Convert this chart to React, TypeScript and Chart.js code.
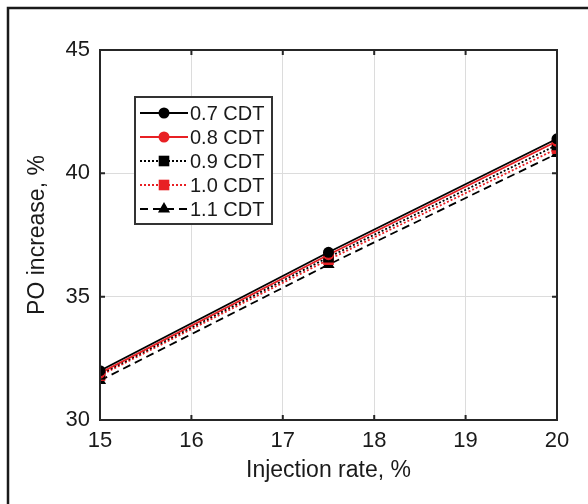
import React, { useEffect, useRef } from 'react';
import { Chart, registerables } from 'chart.js';

Chart.register(...registerables);

const injectionRate = [15, 17.5, 20];
const cdt07 = [32.0, 36.8, 41.4];
const cdt08 = [31.9, 36.7, 41.3];
const cdt09 = [31.85, 36.6, 41.15];
const cdt10 = [31.8, 36.5, 41.0];
const cdt11 = [31.6, 36.3, 40.8];
const seriesLabels = ['0.7 CDT', '0.8 CDT', '0.9 CDT', '1.0 CDT', '1.1 CDT'];
const xTitle = 'Injection rate, %';
const yTitle = 'PO increase, %';

const RED = 'rgb(232,32,36)';
const BLACK = '#000000';
const FONT = "'Liberation Sans', Arial, sans-serif";

function drawMarker(ctx: CanvasRenderingContext2D, style: string, x: number, y: number, r: number, color: string) {
  ctx.save();
  ctx.fillStyle = color;
  ctx.strokeStyle = color;
  ctx.setLineDash([]);
  ctx.beginPath();
  if (style === 'circle') {
    ctx.arc(x, y, r, 0, Math.PI * 2);
  } else if (style === 'rect') {
    const s = Math.SQRT1_2 * r;
    ctx.rect(x - s, y - s, 2 * s, 2 * s);
  } else if (style === 'triangle') {
    ctx.moveTo(x, y - r);
    ctx.lineTo(x + r * Math.sin(Math.PI / 3), y + r * 0.5);
    ctx.lineTo(x - r * Math.sin(Math.PI / 3), y + r * 0.5);
    ctx.closePath();
  }
  ctx.fill();
  ctx.restore();
}

const framePlugin = {
  id: 'framePlugin',
  beforeDraw(chart: any) {
    const ctx = chart.ctx as CanvasRenderingContext2D;
    ctx.save();
    ctx.fillStyle = '#ffffff';
    ctx.fillRect(0, 0, chart.width, chart.height);
    ctx.strokeStyle = '#1a1a1a';
    ctx.lineWidth = 2.5;
    ctx.beginPath();
    ctx.moveTo(8, chart.height);
    ctx.lineTo(8, 8);
    ctx.lineTo(chart.width, 8);
    ctx.stroke();
    ctx.restore();
  },
  afterDatasetsDraw(chart: any) {
    const ctx = chart.ctx as CanvasRenderingContext2D;
    const { left, right, top, bottom } = chart.chartArea;
    const xs = chart.scales.x;
    const ys = chart.scales.y;
    ctx.save();
    ctx.strokeStyle = '#262626';
    ctx.lineWidth = 2;
    ctx.setLineDash([]);
    ctx.strokeRect(left, top, right - left, bottom - top);
    const tl = 5;
    ctx.beginPath();
    xs.ticks.forEach((t: any) => {
      const px = xs.getPixelForValue(t.value);
      ctx.moveTo(px, bottom);
      ctx.lineTo(px, bottom - tl);
      ctx.moveTo(px, top);
      ctx.lineTo(px, top + tl);
    });
    ys.ticks.forEach((t: any) => {
      const py = ys.getPixelForValue(t.value);
      ctx.moveTo(left, py);
      ctx.lineTo(left + tl, py);
      ctx.moveTo(right, py);
      ctx.lineTo(right - tl, py);
    });
    ctx.stroke();

    const lx = 135, ly = 97, lw = 137, lh = 127;
    ctx.fillStyle = '#ffffff';
    ctx.fillRect(lx, ly, lw, lh);
    ctx.strokeStyle = '#333333';
    ctx.lineWidth = 2;
    ctx.strokeRect(lx, ly, lw, lh);
    chart.data.datasets.forEach((ds: any, i: number) => {
      const cy = 113 + i * 24;
      ctx.save();
      ctx.strokeStyle = ds.borderColor;
      ctx.lineWidth = ds.borderWidth;
      ctx.setLineDash(ds.borderDash || []);
      ctx.beginPath();
      ctx.moveTo(140, cy);
      ctx.lineTo(188, cy);
      ctx.stroke();
      ctx.restore();
      drawMarker(ctx, ds.pointStyle, 164, cy, ds.pointRadius, ds.pointBackgroundColor);
      ctx.fillStyle = '#1a1a1a';
      ctx.font = `20px ${FONT}`;
      ctx.textBaseline = 'middle';
      ctx.textAlign = 'left';
      ctx.fillText(ds.label, 190, cy + 1);
    });
    ctx.restore();
  },
};

function makeDataset(label: string, values: number[], color: string, dash: number[], pointStyle: string, radius: number) {
  return {
    label,
    data: injectionRate.map((x, i) => ({ x, y: values[i] })),
    borderColor: color,
    backgroundColor: color,
    pointBackgroundColor: color,
    pointBorderColor: color,
    pointBorderWidth: 0,
    borderWidth: 1.8,
    borderDash: dash,
    pointStyle,
    pointRadius: radius,
    pointHoverRadius: radius,
    tension: 0,
    fill: false,
  };
}

export default function App() {
  const canvasRef = useRef<HTMLCanvasElement | null>(null);

  useEffect(() => {
    if (!canvasRef.current) return;
    const chart = new Chart(canvasRef.current, {
      type: 'line',
      data: {
        datasets: [
          makeDataset(seriesLabels[0], cdt07, BLACK, [], 'circle', 5.5),
          makeDataset(seriesLabels[1], cdt08, RED, [], 'circle', 5.5),
          makeDataset(seriesLabels[2], cdt09, BLACK, [2, 2], 'rect', 7.5),
          makeDataset(seriesLabels[3], cdt10, RED, [2, 2], 'rect', 7.5),
          makeDataset(seriesLabels[4], cdt11, BLACK, [8, 5], 'triangle', 7),
        ] as any,
      },
      options: {
        animation: false,
        responsive: false,
        maintainAspectRatio: false,
        layout: { padding: { left: 0, top: 50, right: 31, bottom: 0 } },
        plugins: { legend: { display: false }, tooltip: { enabled: false } },
        scales: {
          x: {
            type: 'linear',
            min: 15,
            max: 20,
            ticks: { stepSize: 1, color: '#1a1a1a', font: { size: 22, family: FONT }, padding: 8 },
            grid: { color: '#dcdcdc', lineWidth: 1, drawTicks: false },
            border: { display: false },
            title: { display: true, text: xTitle, color: '#1a1a1a', font: { size: 23, family: FONT }, padding: { top: 0, bottom: 20 } },
            afterFit: (s: any) => { s.height = 84; },
          },
          y: {
            type: 'linear',
            min: 30,
            max: 45,
            ticks: { stepSize: 5, color: '#1a1a1a', font: { size: 22, family: FONT }, padding: 10 },
            grid: { color: '#dcdcdc', lineWidth: 1, drawTicks: false },
            border: { display: false },
            title: { display: true, text: yTitle, color: '#1a1a1a', font: { size: 23, family: FONT }, padding: { top: 24, bottom: 0 } },
            afterFit: (s: any) => { s.width = 100; },
          },
        },
      },
      plugins: [framePlugin],
    });
    return () => chart.destroy();
  }, []);

  return (
    <div style={{ position: 'absolute', left: 0, top: 0, width: 588, height: 504 }}>
      <canvas ref={canvasRef} width={588} height={504} style={{ width: 588, height: 504, display: 'block' }} />
    </div>
  );
}
